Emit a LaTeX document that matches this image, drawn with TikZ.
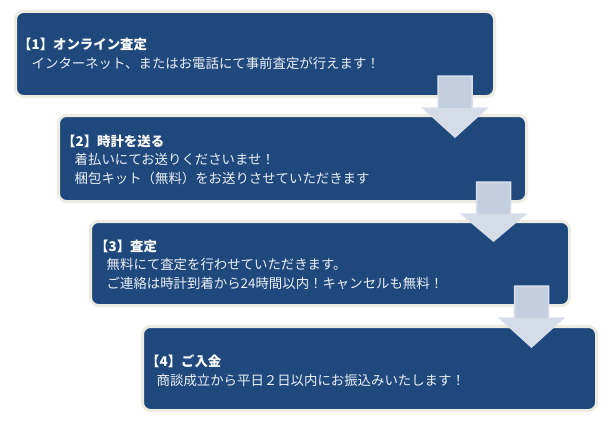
\documentclass[tikz,border=0pt]{standalone}
\usepackage{fontspec}
\setmainfont{Noto Sans CJK JP}
\usetikzlibrary{calc}
\definecolor{boxblue}{HTML}{1F497D}
\definecolor{boxedge}{HTML}{EEECE1}
\definecolor{shaftc}{HTML}{C3CEDF}
\definecolor{headc}{HTML}{D4DCE8}
\definecolor{arrowedge}{HTML}{D8DFEA}
\definecolor{linetext}{HTML}{ECEFF4}
\tikzset{
  stepbox/.style={draw=boxedge, line width=3pt, fill=boxblue, rounded corners=8pt, inner sep=0pt},
  titletext/.style={anchor=base west, inner sep=0pt, text=white, font=\fontsize{13.4pt}{15pt}\selectfont\bfseries},
  bodytext/.style={anchor=base west, inner sep=0pt, text=linetext, font=\fontsize{13.4pt}{15pt}\selectfont},
}
\newcommand{\flowarrow}[2]{%
  \fill[headc] ($(#1)+(-32,0)+(0,32)$) -- ($(#1)+(32,0)+(0,32)$) -- (#2) -- cycle;
  \fill[shaftc] ($(#1)+(-17,0)$) rectangle ($(#1)+(17,32)$);
  \draw[arrowedge, line width=1.5pt, line join=miter]
    ($(#1)+(-17,0)$) -- ($(#1)+(17,0)$) -- ($(#1)+(17,32)$) -- ($(#1)+(32,32)$)
    -- (#2) -- ($(#1)+(-32,32)$) -- ($(#1)+(-17,32)$) -- cycle;
}
\begin{document}
\begin{tikzpicture}[x=1pt,y=-1pt]
\useasboundingbox (0,0) rectangle (610,428);
\fill[white] (0,0) rectangle (610,428);
% boxes
\node[stepbox, minimum width=479pt, minimum height=85pt] (b1) at (255,54) {};
\node[stepbox, minimum width=468pt, minimum height=86pt] (b2) at (292.5,158.5) {};
\node[stepbox, minimum width=479pt, minimum height=84pt] (b3) at (330,263.5) {};
\node[stepbox, minimum width=454pt, minimum height=84pt] (b4) at (369.5,368.5) {};
% texts
\node[titletext] (t1) at (18,50) {【1】オンライン査定};
\node[bodytext] (l1a) at (31.5,68.5) {インターネット、またはお電話にて事前査定が行えます！};
\node[titletext] (t2) at (62,146.5) {【2】時計を送る};
\node[bodytext] (l2a) at (74.5,164.5) {着払いにてお送りくださいませ！};
\node[bodytext] (l2b) at (74.5,183) {梱包キット（無料）をお送りさせていただきます};
\node[titletext] (t3) at (95,251) {【3】査定};
\node[bodytext] (l3a) at (106.5,269) {無料にて査定を行わせていただきます。};
\node[bodytext] (l3b) at (106.5,288) {ご連絡は時計到着から24時間以内！キャンセルも無料！};
\node[titletext] (t4) at (146,366) {【4】ご入金};
\node[bodytext] (l4a) at (156.5,385) {商談成立から平日２日以内にお振込みいたします！};
% arrows
\coordinate (a1s) at (455,76);  \coordinate (a1t) at (455,137);
\coordinate (a2s) at (493.5,182); \coordinate (a2t) at (493.5,241);
\coordinate (a3s) at (531.5,286); \coordinate (a3t) at (531.5,347);
\flowarrow{a1s}{a1t}
\flowarrow{a2s}{a2t}
\flowarrow{a3s}{a3t}
\end{tikzpicture}
\end{document}
